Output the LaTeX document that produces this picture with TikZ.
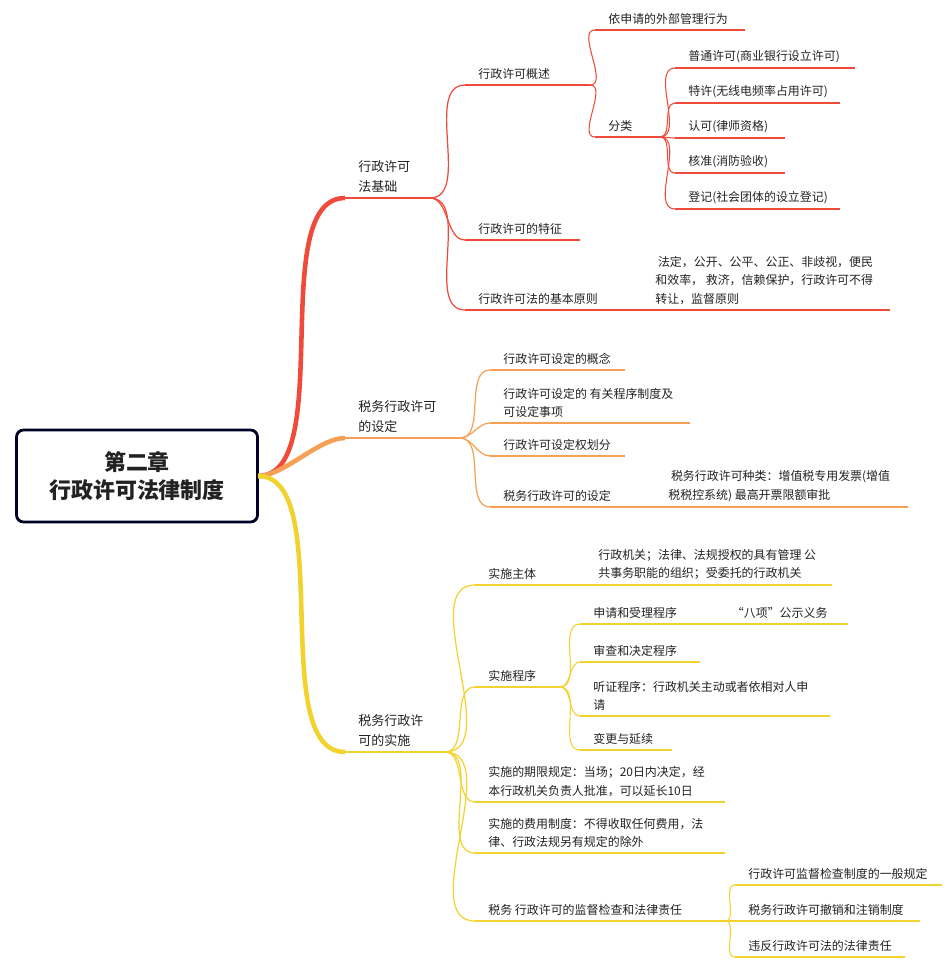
\documentclass[tikz,border=0pt]{standalone}
\usepackage{fontspec}
\setmainfont{Noto Sans CJK SC}
\definecolor{redb}{HTML}{F04A3A}
\definecolor{orangeb}{HTML}{F5A055}
\definecolor{yellowb}{HTML}{F2D22E}
\definecolor{txt}{HTML}{222222}
\tikzset{
	rootstyle/.style={rectangle,draw=black!85!blue,line width=1.6pt,rounded corners=4pt,fill=white,minimum width=241*0.02cm,minimum height=92*0.02cm,align=center,font=\fontsize{12.5}{16}\selectfont\bfseries,text=txt},
	labelstyle/.style={anchor=south west,inner sep=0pt,align=left,font=\fontsize{6.8}{10.5}\selectfont,text=txt},
	mainstyle/.style={anchor=south west,inner sep=0pt,align=left,font=\fontsize{7.4}{11.5}\selectfont,text=txt},
	link/.style={out=0,in=180,looseness=0.9}
}
% underline with named ends and a text above it
\newcommand{\leaf}[6]{%
	\coordinate (#1s) at (#2,#3);
	\coordinate (#1e) at (#2+#4,#3);
	\draw[#6] (#1s)--(#1e);
	\node[labelstyle] (#1) at (#2+13,#3-5) {#5};
}
\begin{document}
\begin{tikzpicture}[x=0.02cm,y=-0.02cm]
	\useasboundingbox (0,0) rectangle (950,974);
	\node[rootstyle] (root) at (137,476) {第二章\\行政许可法律制度};
	\coordinate (r0) at (258,476);
	% level one
	\coordinate (as) at (345,198); \coordinate (ae) at (430,198);
	\coordinate (bs) at (345,438); \coordinate (be) at (460,438);
	\coordinate (cs) at (345,752); \coordinate (ce) at (445,752);
	\draw[redb,line width=2.6pt,out=0,in=180,looseness=0.7] (r0) to (as);
	\draw[redb,line width=1pt] (as)--(ae);
	\draw[orangeb,line width=2.6pt,out=0,in=180,looseness=0.7] (r0) to (bs);
	\draw[orangeb,line width=1pt] (bs)--(be);
	\draw[yellowb,line width=2.6pt,out=0,in=180,looseness=0.7] (r0) to (cs);
	\draw[yellowb,line width=1pt] (cs)--(ce);
	\node[mainstyle] (a) at (358,193) {行政许可\\法基础};
	\node[mainstyle] (b) at (358,433) {税务行政许可\\的设定};
	\node[mainstyle] (c) at (358,747) {税务行政许\\可的实施};
	% red part
	\leaf{a1}{465}{85}{125}{行政许可概述}{redb,line width=0.7pt}
	\leaf{a2}{465}{240}{115}{行政许可的特征}{redb,line width=0.7pt}
	\leaf{a3}{465}{310}{425}{行政许可法的基本原则}{redb,line width=0.7pt}
	\node[labelstyle] (a3x) at (655,305) {\ 法定，公开、公平、公正、非歧视，便民\\和效率，\ 救济，信赖保护，行政许可不得\\转让，监督原则};
	\foreach \n in {a1,a2,a3} \draw[redb,line width=0.7pt,link] (ae) to (\n s);
	\leaf{a11}{595}{30}{150}{依申请的外部管理行为}{redb,line width=0.6pt}
	\leaf{a12}{595}{137}{65}{分类}{redb,line width=0.6pt}
	\foreach \n in {a11,a12} \draw[redb,line width=0.6pt,link] (a1e) to (\n s);
	\leaf{k1}{675}{68}{180}{普通许可(商业银行设立许可)}{redb,line width=0.6pt}
	\leaf{k2}{675}{103}{165}{特许(无线电频率占用许可)}{redb,line width=0.6pt}
	\leaf{k3}{675}{138}{110}{认可(律师资格)}{redb,line width=0.6pt}
	\leaf{k4}{675}{173}{110}{核准(消防验收)}{redb,line width=0.6pt}
	\leaf{k5}{675}{209}{165}{登记(社会团体的设立登记)}{redb,line width=0.6pt}
	\foreach \n in {k1,k2,k3,k4,k5} \draw[redb,line width=0.6pt,link] (a12e) to (\n s);
	% orange part
	\leaf{b1}{490}{370}{135}{行政许可设定的概念}{orangeb,line width=0.7pt}
	\leaf{b2}{490}{423}{200}{行政许可设定的 有关程序制度及\\可设定事项}{orangeb,line width=0.7pt}
	\leaf{b3}{490}{456}{135}{行政许可设定权划分}{orangeb,line width=0.7pt}
	\leaf{b4}{490}{507}{418}{税务行政许可的设定}{orangeb,line width=0.7pt}
	\node[labelstyle] (b4x) at (668,502) {\ 税务行政许可种类：增值税专用发票(增值\\税税控系统) 最高开票限额审批};
	\foreach \n in {b1,b2,b3,b4} \draw[orangeb,line width=0.7pt,link] (be) to (\n s);
	% yellow part
	\leaf{c1}{475}{585}{85}{实施主体}{yellowb,line width=0.7pt}
	\leaf{c2}{475}{687}{85}{实施程序}{yellowb,line width=0.7pt}
	\leaf{c3}{475}{802}{250}{实施的期限规定：当场；20日内决定，经\\本行政机关负责人批准，可以延长10日}{yellowb,line width=0.7pt}
	\leaf{c4}{475}{853}{250}{实施的费用制度：不得收取任何费用，法\\律、行政法规另有规定的除外}{yellowb,line width=0.7pt}
	\leaf{c5}{475}{921}{250}{税务 行政许可的监督检查和法律责任}{yellowb,line width=0.7pt}
	\foreach \n in {c1,c2,c3,c4,c5} \draw[yellowb,line width=0.7pt,link] (ce) to (\n s);
	\leaf{c11}{585}{585}{247}{行政机关；法律、法规授权的具有管理 公\\共事务职能的组织；受委托的行政机关}{yellowb,line width=0.6pt}
	\draw[yellowb,line width=0.6pt] (c1e)--(c11s);
	\leaf{c21}{580}{624}{268}{申请和受理程序\hspace{4.6em}“八项”公示义务}{yellowb,line width=0.6pt}
	\leaf{c22}{580}{662}{120}{审查和决定程序}{yellowb,line width=0.6pt}
	\leaf{c23}{580}{716}{250}{听证程序：行政机关主动或者依相对人申\\请}{yellowb,line width=0.6pt}
	\leaf{c24}{580}{750}{92}{变更与延续}{yellowb,line width=0.6pt}
	\foreach \n in {c21,c22,c23,c24} \draw[yellowb,line width=0.6pt,link] (c2e) to (\n s);
	\leaf{c51}{735}{885}{207}{行政许可监督检查制度的一般规定}{yellowb,line width=0.6pt}
	\leaf{c52}{735}{921}{185}{税务行政许可撤销和注销制度}{yellowb,line width=0.6pt}
	\leaf{c53}{735}{957}{170}{违反行政许可法的法律责任}{yellowb,line width=0.6pt}
	\foreach \n in {c51,c52,c53} \draw[yellowb,line width=0.6pt,link] (c5e) to (\n s);
\end{tikzpicture}
\end{document}
